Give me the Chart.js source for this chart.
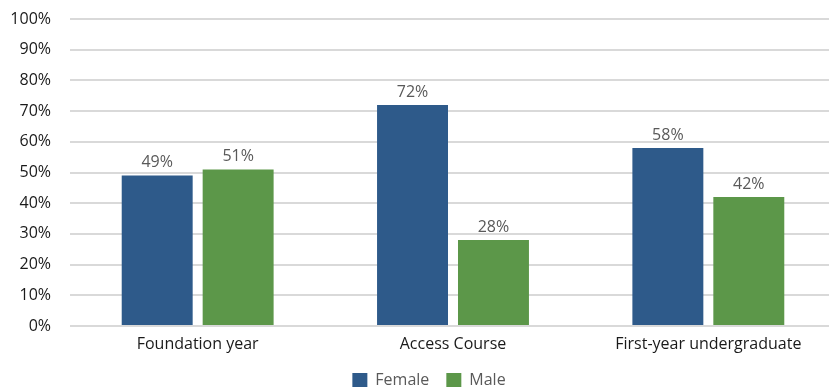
<!DOCTYPE html>
<html>
<head>
<meta charset="utf-8">
<script src="https://cdn.jsdelivr.net/npm/chart.js"></script>
<style>
  html, body { margin: 0; padding: 0; background: #fff; overflow: hidden; }
  #wrap { width: 836px; height: 387px; }
</style>
</head>
<body>
<div id="wrap"><canvas id="genderChart" width="836" height="387"></canvas></div>
<script>
const categories = ['Foundation year', 'Access Course', 'First-year undergraduate'];
const female = [49, 72, 58];
const male = [51, 28, 42];
const yTicks = [0, 10, 20, 30, 40, 50, 60, 70, 80, 90, 100];

const FONT = "'Open Sans', 'Noto Sans', sans-serif";

// prints the percentage above each bar
const valueLabels = {
    id: 'valueLabels',
    afterDatasetsDraw(chart) {
        const c = chart.ctx;
        c.save();
        c.font = '16px ' + FONT;
        c.fillStyle = '#595959';
        c.textAlign = 'center';
        c.textBaseline = 'bottom';
        chart.data.datasets.forEach((ds, i) => {
            chart.getDatasetMeta(i).data.forEach((bar, j) => {
                c.fillText(ds.data[j] + '%', bar.x, bar.y - 5);
            });
        });
        c.restore();
    }
};

// nudge the legend a bit to the right of the canvas centre
const legendShift = {
    id: 'legendShift',
    afterLayout(chart) {
        chart.legend.left += 11;
        chart.legend.right += 11;
    }
};

new Chart(document.getElementById('genderChart').getContext('2d'), {
    type: 'bar',
    data: {
        labels: categories,
        datasets: [{
            label: 'Female',
            data: female,
            backgroundColor: '#2e5a8a'
        }, {
            label: 'Male',
            data: male,
            backgroundColor: '#5c9749'
        }]
    },
    options: {
        responsive: false,
        animation: false,
        layout: { padding: { top: 19, left: 0, right: 0, bottom: -11 } },
        datasets: {
            bar: { categoryPercentage: 162 / 255.5, barPercentage: 71 / 81 }
        },
        scales: {
            x: {
                grid: { display: false },
                border: { display: false },
                ticks: { color: '#1a1a1a', font: { family: FONT, size: 16 }, padding: 1 },
                afterFit(scale) {
                    scale.height = 29;
                    scale.paddingLeft = scale.paddingRight = 0;
                }
            },
            y: {
                min: 0,
                max: 100,
                afterBuildTicks(scale) { scale.ticks = yTicks.map(v => ({ value: v })); },
                grid: { color: '#d9d9d9', lineWidth: 2, drawTicks: false },
                border: { display: false },
                ticks: {
                    color: '#1a1a1a',
                    font: { family: FONT, size: 16 },
                    padding: 19,
                    callback: v => v + '%'
                },
                afterFit(scale) {
                    scale.width = 70;
                    scale.paddingTop = scale.paddingBottom = 0;
                }
            }
        },
        plugins: {
            legend: {
                position: 'bottom',
                labels: {
                    color: '#595959',
                    font: { family: FONT, size: 16 },
                    boxWidth: 15,
                    boxHeight: 14,
                    padding: 17
                }
            },
            tooltip: { enabled: false }
        }
    },
    plugins: [valueLabels, legendShift]
});
</script>
</body>
</html>
